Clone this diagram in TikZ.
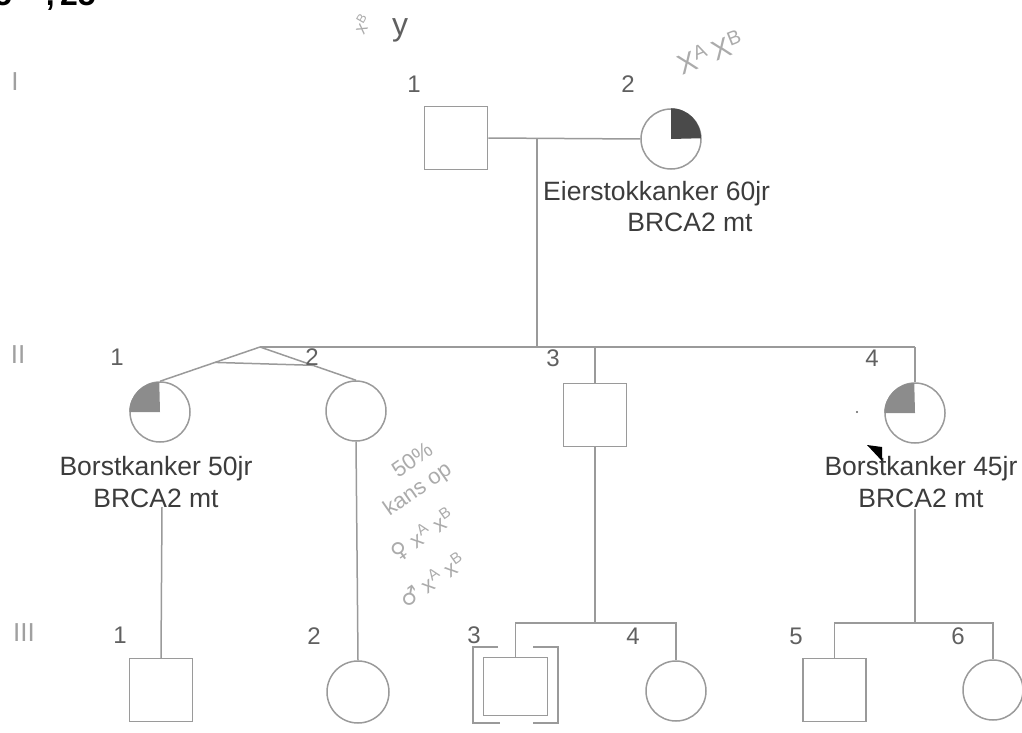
\documentclass[tikz,border=0pt]{standalone}
\usepackage{fontspec}
\setmainfont{Liberation Sans}
\newfontfamily\symfont{DejaVu Sans}
\usetikzlibrary{calc}
\definecolor{lineC}{HTML}{9A9A9A}
\definecolor{txtC}{HTML}{3C3C3C}
\definecolor{numC}{HTML}{606060}
\definecolor{genC}{HTML}{A0A0A0}
\definecolor{fillL}{HTML}{8C8C8C}
\definecolor{fillD}{HTML}{4A4A4A}
\definecolor{handC}{HTML}{ABABAB}
\tikzset{
  male/.style={draw=lineC, line width=1.5pt, minimum width=63pt, minimum height=63pt, inner sep=0pt, fill=white},
  female/.style={circle, draw=lineC, line width=1.5pt, minimum size=60pt, inner sep=0pt},
  conn/.style={draw=lineC, line width=1.5pt},
  num/.style={text=numC, font=\fontsize{24}{28}\selectfont, inner sep=0pt},
  gen/.style={text=genC, font=\fontsize{26}{30}\selectfont, inner sep=0pt},
  info/.style={text=txtC, font=\fontsize{26.5}{32}\selectfont, align=center, inner sep=0pt},
  hand/.style={text=handC, font=\fontsize{22}{24}\selectfont, inner sep=0pt}
}
\begin{document}
\begin{tikzpicture}[x=1pt,y=-1pt]
\useasboundingbox (0,0) rectangle (1022,733);
% top-left cut text
\node[anchor=base east, font=\fontsize{32}{36}\selectfont\bfseries, inner sep=0pt] (tl1) at (12,6) {5};
\node[anchor=base east, font=\fontsize{32}{36}\selectfont\bfseries, inner sep=0pt] (tl2) at (55,6) {,};
\node[anchor=base west, font=\fontsize{32}{36}\selectfont\bfseries, inner sep=0pt] (tl3) at (60,6) {25};
% generation labels
\node[gen] (gI) at (15,82) {I};
\node[gen] (gII) at (18,355) {II};
\node[gen] (gIII) at (24,633) {III};
% generation I
\node[male] (I1) at (456,138) {};
\node[female] (I2) at (671,139) {};
\fill[fillD] (I2.center) -- (I2.north) arc[start angle=270, end angle=360, radius=30] -- cycle;
\node[num] (nI1) at (414,84) {1};
\node[num] (nI2) at (628,84) {2};
\draw[conn] (I1.east) -- (I2.west);
\coordinate (dI) at (537,139);
\coordinate (sibL) at (260,347);
\coordinate (sibM) at (537,347);
\coordinate (sibR) at (915,347);
\draw[conn] (dI) -- (sibM);
\draw[conn] (sibL) -- (sibR);
\node[info, anchor=north west] (tI2) at (543,181) {Eierstokkanker 60jr};
\node[info, anchor=north] (tI2b) at (690,213) {BRCA2 mt};
% generation II
\node[female] (II1) at (160,412) {};
\fill[fillL] (II1.center) -- (II1.west) arc[start angle=180, end angle=270, radius=30] -- cycle;
\node[female] (II2) at (356,411) {};
\node[male] (II3) at (595,415) {};
\node[female] (II4) at (915,413) {};
\fill[fillL] (II4.center) -- (II4.west) arc[start angle=180, end angle=270, radius=30] -- cycle;
\draw[conn] (sibL) -- (II1.north);
\draw[conn] (sibL) -- (II2.north);
\draw[conn] ($(sibL)!0.45!(II1.north)$) -- ($(sibL)!0.55!(II2.north)$);
\draw[conn] (II3.north |- sibL) -- (II3.north);
\draw[conn] (sibR) -- (II4.north);
\node[num] (nII1) at (117,357) {1};
\node[num] (nII2) at (312,357) {2};
\node[num] (nII3) at (553,358) {3};
\node[num] (nII4) at (872,358) {4};
\node[info] (tII1) at (156,482) {Borstkanker 50jr\\BRCA2 mt};
\node[info] (tII4) at (921,482) {Borstkanker 45jr\\BRCA2 mt};
\fill[black] (867,445) -- (882,447) -- (882,461) -- cycle;
\fill[numC] (857,412) circle (1.2);
% generation III
\node[male] (III1) at (161,690) {};
\node[female, minimum size=62pt] (III2) at (358,692) {};
\node[male, minimum width=64pt, minimum height=58pt] (III3) at (515.5,686.5) {};
\node[female] (III4) at (676,691) {};
\node[male] (III5) at (834.5,690) {};
\node[female] (III6) at (993,690) {};
\coordinate (c1) at (162,507);
\draw[conn] (c1) -- (III1.north);
\draw[conn] (II2.south) -- (III2.north);
\coordinate (k34) at (595,623);
\draw[conn] (II3.south) -- (k34);
\draw[conn] (III3.north) -- (III3.north |- k34) -- (III4.north |- k34) -- (III4.north);
\coordinate (c4) at (915,509);
\coordinate (k56) at (915,623);
\draw[conn] (c4) -- (k56);
\draw[conn] (III5.north) -- (III5.north |- k56) -- (III6.north |- k56) -- (III6.north);
% adoption brackets
\draw[conn] (498,647) -- (473,647) -- (473,723) -- (500,723);
\draw[conn] (533,647) -- (558,647) -- (558,723) -- (533,723);
\node[num] (nIII1) at (120,635) {1};
\node[num] (nIII2) at (314,636) {2};
\node[num] (nIII3) at (474,635) {3};
\node[num] (nIII4) at (633,636) {4};
\node[num] (nIII5) at (796,636) {5};
\node[num] (nIII6) at (958,636) {6};
% handwriting
\node[hand, rotate=60, font=\fontsize{18}{20}\selectfont] (h1) at (362,24) {x\textsuperscript{B}};
\node[text=numC, font=\fontsize{32}{34}\selectfont, inner sep=0pt] (h2) at (400,30) {y};
\node[hand, rotate=22, font=\fontsize{28}{30}\selectfont] (h3) at (710,52) {X\textsuperscript{A}\,X\textsuperscript{B}};
\node[hand, rotate=35] (h4) at (412,460) {50\%};
\node[hand, rotate=35] (h5) at (418,490) {kans op};
\node[hand, rotate=35] (h6) at (423,535) {{\symfont ♀} x\textsuperscript{A} x\textsuperscript{B}};
\node[hand, rotate=35] (h7) at (432,580) {{\symfont ♂} x\textsuperscript{A} x\textsuperscript{B}};
\end{tikzpicture}
\end{document}
